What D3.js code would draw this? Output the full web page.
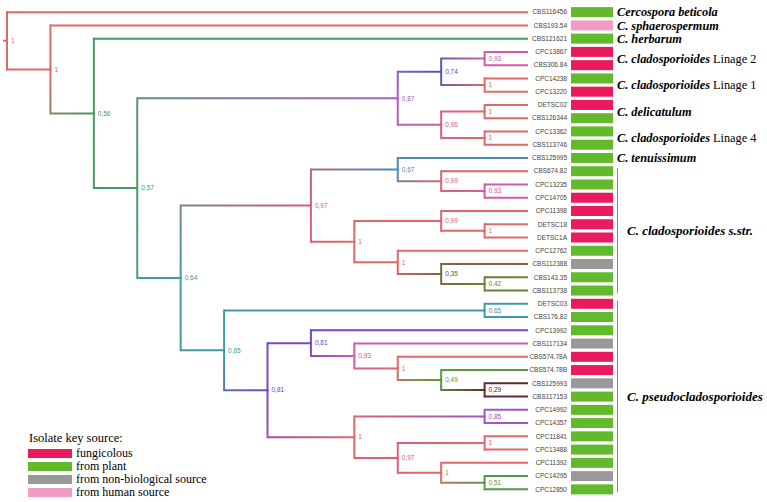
<!DOCTYPE html>
<html><head><meta charset="utf-8">
<script src="https://cdn.jsdelivr.net/npm/d3@7"></script>
<style>body{margin:0;background:#fff} svg{display:block}</style>
</head><body>
<svg id="chart" width="767" height="502"></svg>
<script>
// ---------- DATA ----------
const taxa = ["CBS116456","CBS193.54","CBS121621","CPC13867","CBS306.84","CPC14238","CPC13220","DETSC02","CBS126344","CPC13362","CBS113746","CBS125995","CBS674.82","CPC13235","CPC14705","CPC11398","DETSC18","DETSC1A","CPC12762","CBS112388","CBS143.35","CBS113738","DETSC03","CBS176.82","CPC13992","CBS117134","CBS574.78A","CBS574.78B","CBS125993","CBS117153","CPC14992","CPC14357","CPC11841","CPC13488","CPC11392","CPC14295","CPC12850"];
const taxonParent = ["root","A","B","H","H","I","I","J","J","K","K","N","P","Q","Q","R","T","T","S","U","V","V","W","W","Y","AA","BB","CC","DD","DD","EE","EE","GG","GG","HH","II","II"];
const taxonSource = [1,3,1,0,0,1,0,0,1,1,1,1,1,1,0,0,0,0,1,2,1,1,0,1,1,2,0,0,2,1,1,1,1,1,1,2,1];

const cladeIds     = ["root","A","B","C","D","F","H","I","G","J","K","E","L","N","P","Q","O","R","T","S","U","V","M","W","X","Y","AA","BB","CC","DD","Z","EE","FF","GG","HH","II"];
const cladeParent  = ["","root","A","B","C","D","F","F","D","G","G","C","E","L","N","P","L","O","R","O","S","U","E","M","M","X","Y","AA","BB","CC","X","Z","Z","FF","FF","HH"];
const cladeSupport = [1,1,0.56,0.57,0.87,0.74,0.93,1,0.96,1,1,0.64,0.97,0.67,0.99,0.93,1,0.99,1,1,0.35,0.42,0.65,0.65,0.81,0.81,0.93,1,0.49,0.29,1,0.85,0.97,1,1,0.51];

const sourceNames = ["fungicolous","from plant","from non-biological source","from human source"];

const speciesNames  = ["Cercospora beticola","C. sphaerospermum","C. herbarum","C. cladosporioides","C. cladosporioides","C. delicatulum","C. cladosporioides","C. tenuissimum"];
const speciesSuffix = ["","","","Linage 2","Linage 1","","Linage 4",""];
const speciesFirst  = [0,1,2,3,5,7,9,11];
const speciesLast   = [0,1,2,4,6,8,10,11];

const groupNames = ["C. cladosporioides s.str.","C. pseudocladosporioides"];
const groupFirst = [12,22];
const groupLast  = [21,36];

// ---------- STYLE ----------
const sourceColors = ["#ea1b5c","#62b92b","#999999","#f29cc5"];
const supportColor = d3.scaleLinear()
  .domain([0.29,0.35,0.42,0.49,0.56,0.64,0.67,0.74,0.81,0.87,0.93,0.97,1])
  .range(["#5e2e2e","#7c6444","#6c8236","#589a3e","#469a62","#3e9fa2","#4a8cb4","#4a58b8","#7448c0","#b45cc8","#d45aa8","#dc5c78","#e06868"])
  .interpolate(d3.interpolateRgb);

const svg = d3.select("#chart");
const defs = svg.append("defs");

// ---------- TREE ----------
const rows = cladeIds.map((id,i)=>({id, parent: cladeParent[i] || null, support: cladeSupport[i]}))
  .concat(taxa.map((t,i)=>({id:t, parent:taxonParent[i], idx:i, source:taxonSource[i]})));
const root = d3.stratify().id(d=>d.id).parentId(d=>d.parent)(rows);
root.eachAfter(n => { n.minIdx = n.children ? d3.min(n.children, c=>c.minIdx) : n.data.idx; });
root.sort((a,b)=>a.minIdx-b.minIdx);

const leafY0 = 5.5, leafY1 = 496, treeX0 = 7, treeX1 = 528;
d3.cluster().size([leafY1-leafY0, treeX1-treeX0]).separation(()=>1)(root);
const X = n => treeX0 + n.y;
const Y = n => leafY0 + n.x;
const col = n => n.children ? supportColor(n.data.support) : supportColor(n.parent.data.support);

const gTree = svg.append("g");
let gid = 0;
function grad(x1,y1,x2,y2,c1,c2){
  const id = "g"+(gid++);
  const g = defs.append("linearGradient").attr("id",id).attr("gradientUnits","userSpaceOnUse")
    .attr("x1",x1).attr("y1",y1).attr("x2",x2).attr("y2",y2);
  g.append("stop").attr("offset",0).attr("stop-color",c1);
  g.append("stop").attr("offset",1).attr("stop-color",c2);
  return "url(#"+id+")";
}
root.descendants().forEach(c=>{
  if(!c.parent) return;
  const p = c.parent;
  const x0 = X(p), y0 = Y(p), x1 = X(c), y1 = Y(c);
  const cp = col(p), cc = col(c);
  const vl = Math.abs(y1-y0), hl = x1-x0;
  const cm = d3.interpolateRgb(cp, cc)(vl/(vl+hl));
  gTree.append("line").attr("x1",x0).attr("y1",y0).attr("x2",x0).attr("y2",y1)
    .attr("stroke",grad(x0,y0,x0,y1+(y1>y0?0.01:-0.01),cp,cm)).attr("stroke-width",2).attr("stroke-linecap","square");
  gTree.append("line").attr("x1",x0).attr("y1",y1).attr("x2",x1).attr("y2",y1)
    .attr("stroke",grad(x0,y1,x1,y1,cm,cc)).attr("stroke-width",2).attr("stroke-linecap","butt");
});
// root stub
gTree.append("line").attr("x1",X(root)-4).attr("x2",X(root)).attr("y1",Y(root)).attr("y2",Y(root))
  .attr("stroke",col(root)).attr("stroke-width",2);

// support labels
svg.append("g").selectAll("text").data(root.descendants().filter(n=>n.children)).join("text")
  .attr("x",n=>X(n)+4).attr("y",n=>Y(n)).attr("dy","0.35em")
  .attr("font-family","Liberation Sans, Arial, sans-serif").attr("font-size",6.5)
  .attr("fill",n=>d3.color(col(n)).darker(n.data.support<0.4?0.6:0.1))
  .text(n=>String(n.data.support).replace(".",","));

// leaf labels and bars
const leaves = root.leaves();
svg.append("g").selectAll("text").data(leaves).join("text")
  .attr("x",567).attr("y",n=>Y(n)).attr("dy","0.35em").attr("text-anchor","end")
  .attr("font-family","Liberation Sans, Arial, sans-serif").attr("font-size",6.5).attr("fill","#444")
  .text(n=>n.data.id);
svg.append("g").selectAll("rect").data(leaves).join("rect")
  .attr("x",571).attr("y",n=>Y(n)-5).attr("width",42).attr("height",10)
  .attr("fill",n=>sourceColors[n.data.source]);

// species labels
const leafYByIdx = i => Y(leaves.find(l=>l.data.idx===i));
const serif = "Liberation Serif, Times New Roman, serif";
speciesNames.forEach((s,i)=>{
  const y = (leafYByIdx(speciesFirst[i]) + leafYByIdx(speciesLast[i]))/2;
  const t = svg.append("text").attr("x",617).attr("y",y).attr("dy","0.35em")
    .attr("font-family",serif).attr("font-size",12.3).attr("fill","#000");
  t.append("tspan").attr("font-weight","bold").attr("font-style","italic").text(s);
  if(speciesSuffix[i]) t.append("tspan").text(" "+speciesSuffix[i]);
});
groupNames.forEach((s,i)=>{
  const ya = leafYByIdx(groupFirst[i]) - 3, yb = leafYByIdx(groupLast[i]) + 3;
  svg.append("line").attr("x1",617.5).attr("x2",617.5).attr("y1",ya).attr("y2",yb)
    .attr("stroke","#888").attr("stroke-width",1);
  svg.append("text").attr("x",627).attr("y",(ya+yb)/2).attr("dy","0.35em")
    .attr("font-family",serif).attr("font-size",13).attr("font-weight","bold").attr("font-style","italic")
    .text(s);
});

// legend
const lg = svg.append("g");
lg.append("text").attr("x",29).attr("y",442).attr("font-family",serif).attr("font-size",12.5).text("Isolate key source:");
sourceNames.forEach((s,i)=>{
  const cy = 453.5 + i*13;
  lg.append("rect").attr("x",28).attr("y",cy-4.5).attr("width",44).attr("height",9).attr("fill",sourceColors[i]);
  lg.append("text").attr("x",76).attr("y",cy).attr("dy","0.32em").attr("font-family",serif).attr("font-size",12).text(s);
});
</script>
</body></html>
